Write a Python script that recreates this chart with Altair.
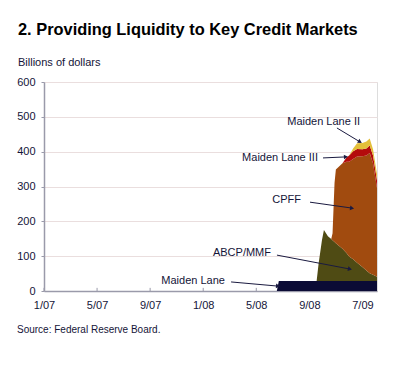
import math
import altair as alt
import pandas as pd

# ---- data (month index: 0 = Jan 2007) ----
months        = [17.55, 17.70, 20.55, 20.70, 20.95, 21.10, 21.40, 21.65, 21.75, 21.90, 22.00, 22.50, 22.80, 23.00, 23.30, 23.60, 24.00, 24.30, 24.55, 24.80, 25.10]
maiden_lane   = [0,     29,    29,    29,    29,    29,    29,    29,    29,    29,    29,    29,    29,    29,    29,    29,    29,    29,    29,    29,    29]
abcp_mmf      = [0,     0,     0,     50,    117,   146,   128,   120,   117,   112,   108,   92,    80,    70,    62,    52,    40,    30,    22,    18,    12]
cpff          = [0,     0,     0,     0,     0,     0,     0,     0,     20,    170,   212,   246,   262,   272,   288,   305,   318,   330,   345,   320,   255]
maiden_lane3  = [0,     0,     0,     0,     0,     0,     0,     0,     0,     0,     0,     0,     12,    18,    22,    22,    20,    20,    22,    22,    22]
maiden_lane2  = [0,     0,     0,     0,     0,     0,     0,     0,     0,     0,     0,     0,     0,     0,     8,     16,    18,    20,    20,    18,    18]

series_names  = ["Maiden Lane", "ABCP/MMF", "CPFF", "Maiden Lane III", "Maiden Lane II"]
series_values = [maiden_lane, abcp_mmf, cpff, maiden_lane3, maiden_lane2]
series_colors = ["#0b0b35", "#4f4b14", "#a14b0f", "#b40c0c", "#e3bf3a"]

tick_months = [0, 4, 8, 12, 16, 20, 24]
tick_labels = ["1/07", "5/07", "9/07", "1/08", "5/08", "9/08", "7/09"]
y_ticks     = [0, 100, 200, 300, 400, 500, 600]

# annotations: label anchor (right edge) and arrow from (x1,y1) to (x2,y2), data units
ann_text = ["Maiden Lane II", "Maiden Lane III", "CPFF", "ABCP/MMF", "Maiden Lane"]
ann_tx   = [23.97, 20.80, 19.52, 17.26, 13.79]
ann_ty   = [485,   382,   261,   109,   29]
ann_x1   = [22.08, 21.03, 20.05, 17.56, 14.10]
ann_y1   = [468,   382,   255,   103,   26]
ann_x2   = [23.82, 22.76, 23.22, 23.06, 17.64]
ann_y2   = [428,   385,   238,   63,    14]

TITLE  = "2. Providing Liquidity to Key Credit Markets"
YTITLE = "Billions of dollars"
SOURCE = "Source: Federal Reserve Board."

# ---- layout ----
W, H = 333, 209
X_MAX = 25.1
Y_MAX = 600
FONT = "Liberation Sans, Arial, sans-serif"
TXT = "#141438"

rows = []
for k, (name, vals) in enumerate(zip(series_names, series_values)):
    for m, v in zip(months, vals):
        rows.append({"m": m, "v": v, "s": name, "k": k})
df = pd.DataFrame(rows)

px_x = W / X_MAX
px_y = H / Y_MAX
angles = []
for x1, y1, x2, y2 in zip(ann_x1, ann_y1, ann_x2, ann_y2):
    dx = (x2 - x1) * px_x
    dy = -(y2 - y1) * px_y
    angles.append(math.degrees(math.atan2(dx, -dy)) % 360)
ann = pd.DataFrame({"t": ann_text, "tx": ann_tx, "ty": ann_ty,
                    "x1": ann_x1, "y1": ann_y1, "x2": ann_x2, "y2": ann_y2,
                    "ang": angles})

tick_df = pd.DataFrame({"m": tick_months, "y0": [0] * len(tick_months), "y1": [9] * len(tick_months)})

xs = alt.Scale(domain=[0, X_MAX], nice=False, zero=False)
ys = alt.Scale(domain=[0, Y_MAX], nice=False)

label_expr = "[" + ",".join("'" + t + "'" for t in tick_labels) + "][round(datum.value/4)]"

X_AX = alt.Axis(
    values=tick_months, labelExpr=label_expr, title=None, grid=False,
    ticks=False, domainColor="#9a9aaa", domainWidth=1.5, labelPadding=8,
    labelFont=FONT, labelFontSize=11, labelColor=TXT, labelFlush=False)
Y_AX = alt.Axis(
    values=y_ticks, title=None, grid=True, gridColor="#eadede",
    tickSize=3, tickColor="#9a9aaa", domainColor="#9a9aaa", domainWidth=1.5,
    labelPadding=6, labelFont=FONT, labelFontSize=11, labelColor=TXT)

ticks = alt.Chart(tick_df).mark_rule(color="#9a9aaa", strokeWidth=1).encode(
    x=alt.X("m:Q", scale=xs, axis=X_AX),
    y=alt.Y("y0:Q", scale=ys, axis=Y_AX),
    y2="y1:Q",
)

areas = alt.Chart(df).mark_area(interpolate="linear").encode(
    x=alt.X("m:Q", scale=xs, axis=X_AX),
    y=alt.Y("v:Q", stack="zero", scale=ys, axis=Y_AX),
    color=alt.Color("s:N", scale=alt.Scale(domain=series_names, range=series_colors), legend=None),
    order=alt.Order("k:Q", sort="ascending"),
)

arrows = alt.Chart(ann).mark_rule(color="#1a1a40", strokeWidth=1).encode(
    x=alt.X("x1:Q", scale=xs, axis=X_AX),
    y=alt.Y("y1:Q", scale=ys, axis=Y_AX),
    x2="x2:Q", y2="y2:Q",
)

heads = alt.Chart(ann).mark_point(shape="triangle-up", filled=True, size=22,
                                  color="#1a1a40", opacity=1).encode(
    x=alt.X("x2:Q", scale=xs, axis=X_AX),
    y=alt.Y("y2:Q", scale=ys, axis=Y_AX),
    angle=alt.Angle("ang:Q", scale=None),
)

labels = alt.Chart(ann).mark_text(align="right", baseline="middle", font=FONT,
                                  fontSize=11, color=TXT, dx=-2).encode(
    x=alt.X("tx:Q", scale=xs, axis=X_AX),
    y=alt.Y("ty:Q", scale=ys, axis=Y_AX),
    text="t:N",
)

def fixed_text(txt, x, y, size, weight="normal", color=TXT):
    return alt.Chart(pd.DataFrame({"t": [txt]})).mark_text(
        align="left", baseline="alphabetic", font=FONT, fontSize=size,
        fontWeight=weight, color=color
    ).encode(x=alt.value(x), y=alt.value(y), text="t:N")

title = fixed_text(TITLE, -26, -47, 16.4, "bold", "#000000")
ytitle = fixed_text(YTITLE, -26, -16, 11)
source = fixed_text(SOURCE, -27, 251, 10)

chart = alt.layer(ticks, areas, arrows, heads, labels, title, ytitle, source).properties(
    width=W, height=H,
    autosize=alt.AutoSizeParams(type="none"),
    padding={"left": 36, "top": 74, "right": 15, "bottom": 67},
).configure_view(stroke="#d8d0d0", strokeWidth=1).configure(background="white")

chart.save("out.html", embed_options={"renderer": "svg", "actions": False})
